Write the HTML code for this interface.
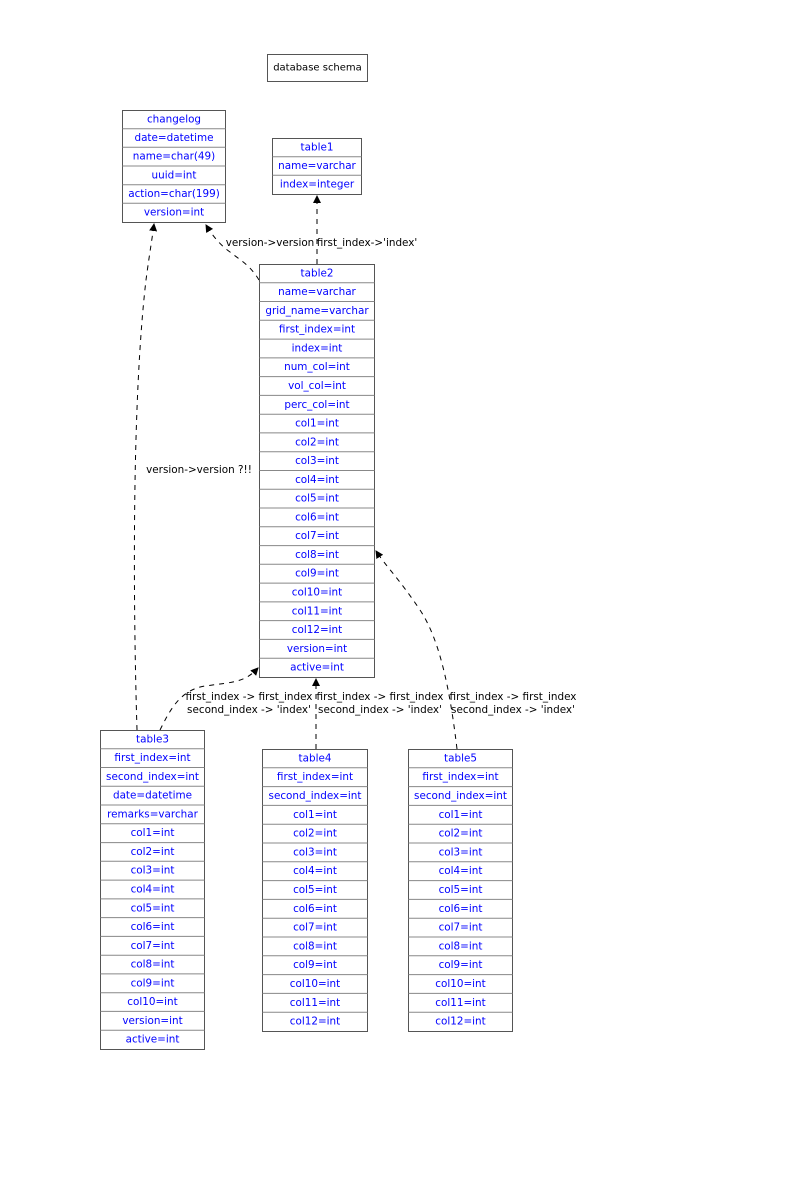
<!DOCTYPE html>
<html><head><meta charset="utf-8"><style>
html,body{margin:0;padding:0;background:#fff;width:800px;height:1200px;overflow:hidden}
svg{display:block}
text{font-family:"DejaVu Sans","Liberation Sans",sans-serif;font-size:10.4px;text-anchor:middle;dominant-baseline:central}
.b{fill:#0000ff}
.k{fill:#000}
.box{fill:#fff;stroke:#555;stroke-width:1}
.sep{stroke:#888;stroke-width:1;fill:none}
.e{stroke:#000;stroke-width:1;fill:none;stroke-dasharray:5,5}
</style></head><body>
<svg width="800" height="1200" viewBox="0 0 800 1200">
<defs><marker id="a" markerWidth="8" markerHeight="8" refX="7" refY="4" orient="auto" markerUnits="userSpaceOnUse"><path d="M0,0 L8,4 L0,8 z" fill="#000"/></marker></defs>

<rect x="267.5" y="54.5" width="100" height="27" class="box"/>
<text x="317.5" y="68" class="k" style="font-size:10px">database schema</text>

<path class="e" d="M317,264 L317,196" marker-end="url(#a)"/>
<path class="e" d="M259,280 C250,265 240,260 230,252 C220,245 212,235 206,225" marker-end="url(#a)"/>
<path class="e" d="M137,730 C133,600 132,400 146,280 C150,250 152,240 154,224" marker-end="url(#a)"/>
<path class="e" d="M160,730 C170,710 180,690 205,686 C235,682 245,682 258,668" marker-end="url(#a)"/>
<path class="e" d="M316,749 L316,679" marker-end="url(#a)"/>
<path class="e" d="M457,749 C450,690 440,640 420,610 C400,580 385,565 376,551" marker-end="url(#a)"/>

<text x="270" y="243" class="k">version-&gt;version</text>
<text x="367" y="243" class="k">first_index-&gt;'index'</text>
<text x="199" y="470" class="k">version-&gt;version ?!!</text>
<text x="249" y="697" class="k">first_index -&gt; first_index</text>
<text x="249" y="710" class="k">second_index -&gt; 'index'</text>
<text x="380" y="697" class="k">first_index -&gt; first_index</text>
<text x="380" y="710" class="k">second_index -&gt; 'index'</text>
<text x="513" y="697" class="k">first_index -&gt; first_index</text>
<text x="513" y="710" class="k">second_index -&gt; 'index'</text>

<rect x="122.5" y="110.5" width="103" height="112" class="box"/>
<path class="sep" d="M122.5,128.7H225.5M122.5,147.3H225.5M122.5,166H225.5M122.5,184.7H225.5M122.5,203.3H225.5"/>
<text x="174" y="119.3" class="b">changelog</text>
<text x="174" y="138" class="b">date=datetime</text>
<text x="174" y="156.7" class="b">name=char(49)</text>
<text x="174" y="175.3" class="b">uuid=int</text>
<text x="174" y="194" class="b">action=char(199)</text>
<text x="174" y="212.7" class="b">version=int</text>

<rect x="272.5" y="138.5" width="89" height="56" class="box"/>
<path class="sep" d="M272.5,156.7H361.5M272.5,175.3H361.5"/>
<text x="317" y="147.3" class="b">table1</text>
<text x="317" y="166" class="b">name=varchar</text>
<text x="317" y="184.7" class="b">index=integer</text>

<rect x="259.5" y="264.5" width="115" height="413" class="box"/>
<path class="sep" d="M259.5,282.8H374.5M259.5,301.5H374.5M259.5,320.3H374.5M259.5,339.1H374.5M259.5,357.9H374.5M259.5,376.6H374.5M259.5,395.4H374.5M259.5,414.2H374.5M259.5,432.9H374.5M259.5,451.7H374.5M259.5,470.5H374.5M259.5,489.2H374.5M259.5,508H374.5M259.5,526.8H374.5M259.5,545.6H374.5M259.5,564.3H374.5M259.5,583.1H374.5M259.5,601.9H374.5M259.5,620.6H374.5M259.5,639.4H374.5M259.5,658.2H374.5"/>
<text x="317" y="273.4" class="b">table2</text>
<text x="317" y="292.2" class="b">name=varchar</text>
<text x="317" y="310.9" class="b">grid_name=varchar</text>
<text x="317" y="329.7" class="b">first_index=int</text>
<text x="317" y="348.5" class="b">index=int</text>
<text x="317" y="367.2" class="b">num_col=int</text>
<text x="317" y="386" class="b">vol_col=int</text>
<text x="317" y="404.8" class="b">perc_col=int</text>
<text x="317" y="423.6" class="b">col1=int</text>
<text x="317" y="442.3" class="b">col2=int</text>
<text x="317" y="461.1" class="b">col3=int</text>
<text x="317" y="479.9" class="b">col4=int</text>
<text x="317" y="498.6" class="b">col5=int</text>
<text x="317" y="517.4" class="b">col6=int</text>
<text x="317" y="536.2" class="b">col7=int</text>
<text x="317" y="554.9" class="b">col8=int</text>
<text x="317" y="573.7" class="b">col9=int</text>
<text x="317" y="592.5" class="b">col10=int</text>
<text x="317" y="611.3" class="b">col11=int</text>
<text x="317" y="630" class="b">col12=int</text>
<text x="317" y="648.8" class="b">version=int</text>
<text x="317" y="667.6" class="b">active=int</text>

<rect x="100.5" y="730.5" width="104" height="319" class="box"/>
<path class="sep" d="M100.5,748.8H204.5M100.5,767.5H204.5M100.5,786.3H204.5M100.5,805H204.5M100.5,823.8H204.5M100.5,842.6H204.5M100.5,861.3H204.5M100.5,880.1H204.5M100.5,898.9H204.5M100.5,917.6H204.5M100.5,936.4H204.5M100.5,955.2H204.5M100.5,973.9H204.5M100.5,992.7H204.5M100.5,1011.4H204.5M100.5,1030.2H204.5"/>
<text x="152.5" y="739.4" class="b">table3</text>
<text x="152.5" y="758.1" class="b">first_index=int</text>
<text x="152.5" y="776.9" class="b">second_index=int</text>
<text x="152.5" y="795.7" class="b">date=datetime</text>
<text x="152.5" y="814.4" class="b">remarks=varchar</text>
<text x="152.5" y="833.2" class="b">col1=int</text>
<text x="152.5" y="852" class="b">col2=int</text>
<text x="152.5" y="870.7" class="b">col3=int</text>
<text x="152.5" y="889.5" class="b">col4=int</text>
<text x="152.5" y="908.3" class="b">col5=int</text>
<text x="152.5" y="927" class="b">col6=int</text>
<text x="152.5" y="945.8" class="b">col7=int</text>
<text x="152.5" y="964.6" class="b">col8=int</text>
<text x="152.5" y="983.3" class="b">col9=int</text>
<text x="152.5" y="1002.1" class="b">col10=int</text>
<text x="152.5" y="1020.9" class="b">version=int</text>
<text x="152.5" y="1039.6" class="b">active=int</text>

<rect x="262.5" y="749.5" width="105" height="282" class="box"/>
<path class="sep" d="M262.5,767.8H367.5M262.5,786.6H367.5M262.5,805.4H367.5M262.5,824.2H367.5M262.5,843H367.5M262.5,861.8H367.5M262.5,880.6H367.5M262.5,899.4H367.5M262.5,918.2H367.5M262.5,937H367.5M262.5,955.8H367.5M262.5,974.6H367.5M262.5,993.4H367.5M262.5,1012.2H367.5"/>
<text x="315" y="758.4" class="b">table4</text>
<text x="315" y="777.2" class="b">first_index=int</text>
<text x="315" y="796" class="b">second_index=int</text>
<text x="315" y="814.8" class="b">col1=int</text>
<text x="315" y="833.6" class="b">col2=int</text>
<text x="315" y="852.4" class="b">col3=int</text>
<text x="315" y="871.2" class="b">col4=int</text>
<text x="315" y="890" class="b">col5=int</text>
<text x="315" y="908.8" class="b">col6=int</text>
<text x="315" y="927.6" class="b">col7=int</text>
<text x="315" y="946.4" class="b">col8=int</text>
<text x="315" y="965.2" class="b">col9=int</text>
<text x="315" y="984" class="b">col10=int</text>
<text x="315" y="1002.8" class="b">col11=int</text>
<text x="315" y="1021.6" class="b">col12=int</text>

<rect x="408.5" y="749.5" width="104" height="282" class="box"/>
<path class="sep" d="M408.5,767.8H512.5M408.5,786.6H512.5M408.5,805.4H512.5M408.5,824.2H512.5M408.5,843H512.5M408.5,861.8H512.5M408.5,880.6H512.5M408.5,899.4H512.5M408.5,918.2H512.5M408.5,937H512.5M408.5,955.8H512.5M408.5,974.6H512.5M408.5,993.4H512.5M408.5,1012.2H512.5"/>
<text x="460.5" y="758.4" class="b">table5</text>
<text x="460.5" y="777.2" class="b">first_index=int</text>
<text x="460.5" y="796" class="b">second_index=int</text>
<text x="460.5" y="814.8" class="b">col1=int</text>
<text x="460.5" y="833.6" class="b">col2=int</text>
<text x="460.5" y="852.4" class="b">col3=int</text>
<text x="460.5" y="871.2" class="b">col4=int</text>
<text x="460.5" y="890" class="b">col5=int</text>
<text x="460.5" y="908.8" class="b">col6=int</text>
<text x="460.5" y="927.6" class="b">col7=int</text>
<text x="460.5" y="946.4" class="b">col8=int</text>
<text x="460.5" y="965.2" class="b">col9=int</text>
<text x="460.5" y="984" class="b">col10=int</text>
<text x="460.5" y="1002.8" class="b">col11=int</text>
<text x="460.5" y="1021.6" class="b">col12=int</text>
</svg>
</body></html>
